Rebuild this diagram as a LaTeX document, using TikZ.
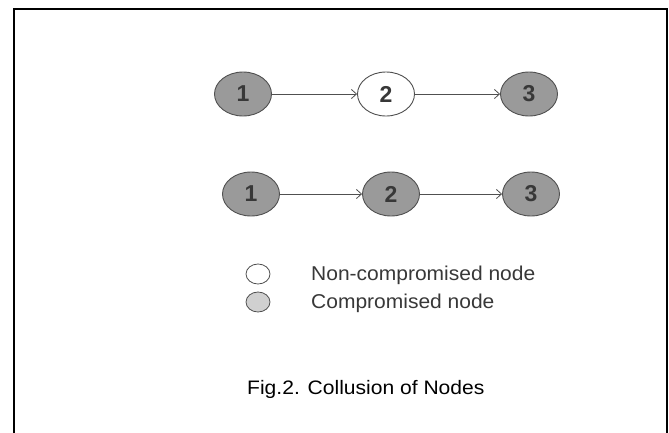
\documentclass[tikz,border=0pt]{standalone}
\usepackage{fontspec}
\setmainfont{Liberation Sans}
\usetikzlibrary{shapes.geometric,arrows.meta}
\definecolor{nodegray}{HTML}{9A9A9A}
\definecolor{edgegray}{HTML}{505050}
\definecolor{numgray}{HTML}{383838}
\definecolor{leggray}{HTML}{D0D0D0}
\begin{document}
\begin{tikzpicture}[x=1pt,y=-1pt,
  gnode/.style={ellipse,draw=edgegray,line width=0.9pt,fill=nodegray,minimum width=57pt,minimum height=44pt,inner sep=0pt,font=\fontsize{23}{23}\selectfont\bfseries,text=numgray},
  wnode/.style={gnode,fill=white},
  link/.style={draw=edgegray,line width=0.8pt,-{Straight Barb[length=5pt,width=9pt]}},
  legnode/.style={ellipse,draw=edgegray,line width=0.8pt,minimum width=24pt,minimum height=20pt,inner sep=0pt},
  legtext/.style={anchor=base west,font=\fontsize{20}{20}\selectfont,text=numgray,inner sep=0pt}]
\useasboundingbox (0,0) rectangle (669,432);
\fill[white] (0,0) rectangle (669,432);
\draw[line width=2pt] (14,445) -- (14,9) -- (667,9) -- (667,445);
% row 1
\node[gnode] (a1) at (243,94) {1};
\node[wnode] (a2) at (386,94) {2};
\node[gnode] (a3) at (529,94) {3};
\draw[link] (a1) -- (a2);
\draw[link] (a2) -- (a3);
% row 2
\node[gnode] (b1) at (251,194) {1};
\node[gnode] (b2) at (391,194) {2};
\node[gnode] (b3) at (531,194) {3};
\draw[link] (b1) -- (b2);
\draw[link] (b2) -- (b3);
% legend
\node[legnode,fill=white] (l1) at (258,274) {};
\node[legnode,fill=leggray] (l2) at (258,302) {};
\node[legtext] (t1) at (311,280) {\scalebox{1.05}[1]{Non-compromised node}};
\node[legtext] (t2) at (311,308) {\scalebox{1.05}[1]{Compromised node}};
% caption
\node[anchor=base west,font=\fontsize{19.5}{19.5}\selectfont,inner sep=0pt] (cap) at (247,394) {\scalebox{1.08}[1]{Fig.2. Collusion of Nodes}};
\end{tikzpicture}
\end{document}
